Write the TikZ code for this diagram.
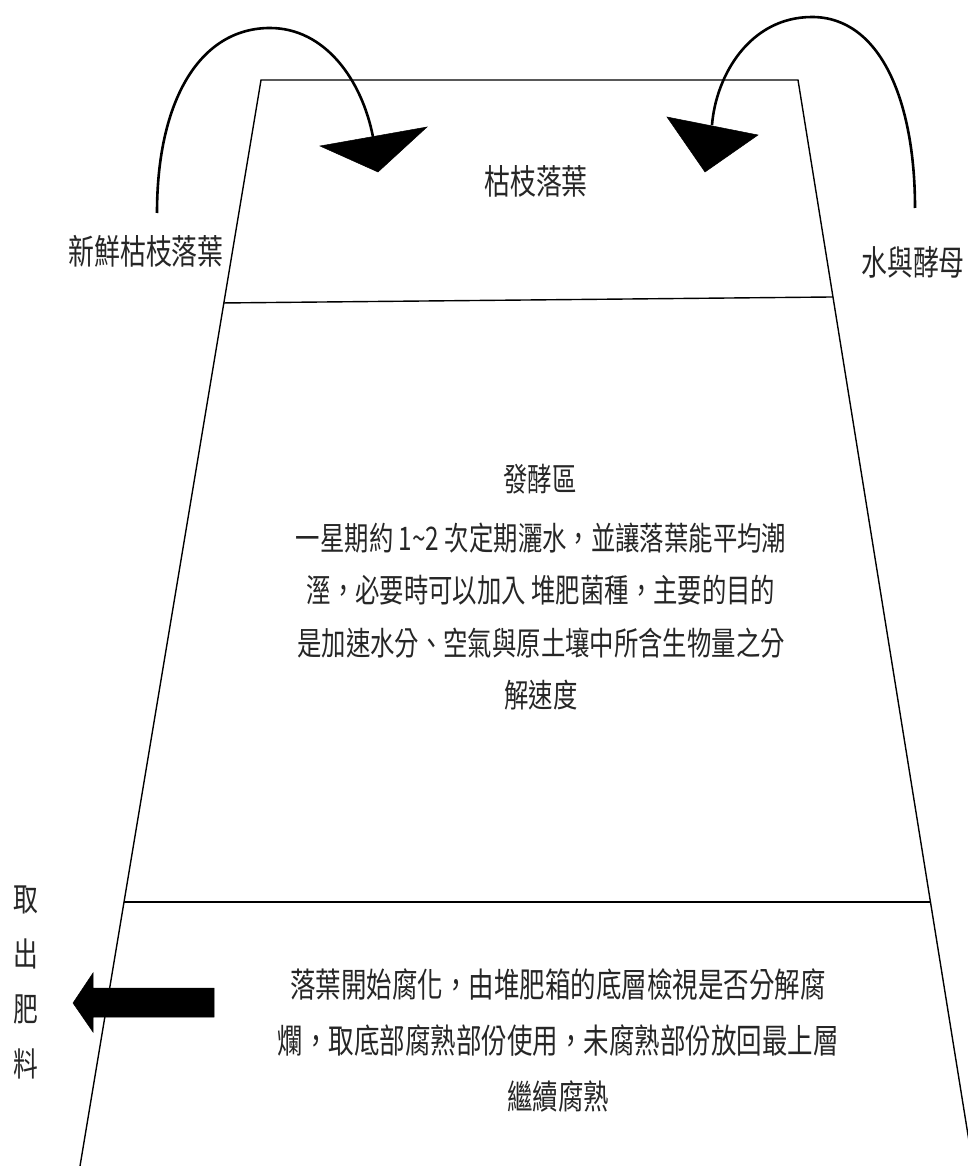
\documentclass[tikz,border=0pt]{standalone}
\usepackage{fontspec}
\newfontfamily\cjk[FakeStretch=0.75]{Noto Sans CJK TC}
\usetikzlibrary{calc}
\tikzset{
  wall/.style={line width=1.4pt, black},
  curve/.style={line width=2.6pt, black},
  head/.style={fill=black, draw=black, line width=0.5pt, line join=miter},
  lbl/.style={font=\cjk\fontsize{34.5}{40}\selectfont, inner sep=0pt, text=black!85},
  body/.style={font=\cjk\fontsize{32.5}{52.3}\selectfont, inner sep=0pt, align=center, text=black!85},
}
\begin{document}
\begin{tikzpicture}[x=1pt,y=-1pt]
\useasboundingbox (0,0) rectangle (968,1166);
% trapezoid bin
\coordinate (TL) at (261,80);
\coordinate (TR) at (798,80);
\coordinate (BL) at (80,1166);
\coordinate (BR) at (973,1166);
\draw[wall] (BL) -- (TL) -- (TR) -- (BR);
\draw[wall] ($(TL)!0.2053!(BL)$) -- ($(TR)!0.1998!(BR)$);
\draw[wall] ($(TL)!0.7569!(BL)$) -- ($(TR)!0.7569!(BR)$);
% labels
\node[lbl] (fresh) at (146,251) {新鮮枯枝落葉};
\node[lbl] (water) at (913,262) {水與酵母};
\node[lbl] (leaves) at (536,181) {枯枝落葉};
\node[body] (zone) at (540,479) {發酵區};
\node[body] (ferment) at (541,616.5) {一星期約 1\textasciitilde 2 次定期灑水，並讓落葉能平均潮\\溼，必要時可以加入 堆肥菌種，主要的目的\\是加速水分、空氣與原土壤中所含生物量之分\\解速度};
\node[body, font=\cjk\fontsize{34}{56}\selectfont] (rot) at (558,1041) {落葉開始腐化，由堆肥箱的底層檢視是否分解腐\\爛，取底部腐熟部份使用，未腐熟部份放回最上層\\繼續腐熟};
\node[lbl, align=center, font=\cjk\fontsize{33}{55}\selectfont] (take) at (26,982) {取\\出\\肥\\料};
% curved arrows
\coordinate (s1) at (157,213);
\coordinate (e1) at (373,137);
\coordinate (s2) at (915,208);
\coordinate (e2) at (712,125);
\draw[curve] (s1) .. controls (157,100) and (200,28) .. (270,28) .. controls (325,28) and (362,80) .. (e1);
\fill[head] (320,146) -- (427,127) -- (378,172) -- cycle;
\draw[curve] (s2) .. controls (915,100) and (880,17) .. (812,17) .. controls (750,17) and (716,75) .. (e2);
\fill[head] (667,117) -- (758,135) -- (705,172) -- cycle;
% output arrow
\fill[head] (214,988) -- (93,988) -- (93,973) -- (73,1003) -- (93,1032) -- (93,1017) -- (214,1017) -- cycle;
\end{tikzpicture}
\end{document}
